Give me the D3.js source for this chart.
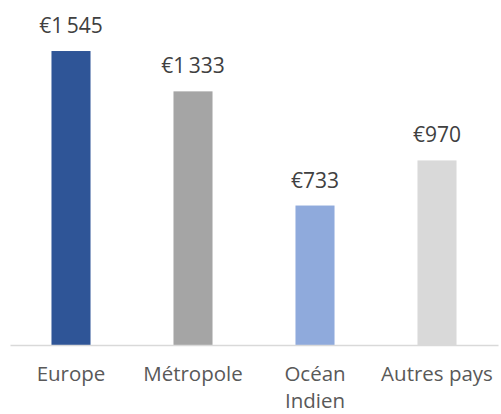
<!DOCTYPE html>
<html>
<head>
<meta charset="utf-8">
<script src="https://cdn.jsdelivr.net/npm/d3@7"></script>
<style>
  body { margin: 0; background: #fff; }
  text { font-family: "Open Sans", sans-serif; }
</style>
</head>
<body>
<div id="vis"></div>
<script>
// data
const CATEGORIES = ["Europe", "Métropole", "Océan Indien", "Autres pays"];
const VALUES = [1545, 1333, 733, 970];
const COLORS = ["#2F5597", "#A5A5A5", "#8FAADC", "#D9D9D9"];

const FRAME_WIDTH = 501;
const FRAME_HEIGHT = 414;
const MARGINS = {left: 10, right: 3, top: 2.5, bottom: 69};

const FRAME = d3.select("#vis")
                .append("svg")
                  .attr("width", FRAME_WIDTH)
                  .attr("height", FRAME_HEIGHT);

const X_SCALE = d3.scaleBand()
                  .domain(CATEGORIES)
                  .range([MARGINS.left, FRAME_WIDTH - MARGINS.right])
                  .paddingInner(0.68)
                  .paddingOuter(0.34);

const Y_SCALE = d3.scaleLinear()
                  .domain([0, 1800])
                  .range([FRAME_HEIGHT - MARGINS.bottom, MARGINS.top]);

const fmt = (v) => "€" + d3.format(",")(v).replace(",", "\u2009");

// bars
FRAME.append("g")
  .selectAll("rect")
  .data(VALUES)
  .enter()
  .append("rect")
    .attr("x", (d, i) => X_SCALE(CATEGORIES[i]))
    .attr("y", (d) => Y_SCALE(d))
    .attr("width", X_SCALE.bandwidth())
    .attr("height", (d) => Y_SCALE(0) - Y_SCALE(d))
    .attr("fill", (d, i) => COLORS[i]);

// value labels
FRAME.append("g")
  .selectAll("text")
  .data(VALUES)
  .enter()
  .append("text")
    .attr("x", (d, i) => X_SCALE(CATEGORIES[i]) + X_SCALE.bandwidth() / 2)
    .attr("y", (d) => Y_SCALE(d) - 18)
    .attr("text-anchor", "middle")
    .attr("font-size", "21px")
    .attr("fill", "#404040")
    .text((d) => fmt(d));

// x axis
const xAxis = FRAME.append("g")
  .attr("transform", "translate(0," + Y_SCALE(0) + ")")
  .call(d3.axisBottom(X_SCALE).tickSize(0).tickPadding(0));

xAxis.select(".domain").attr("stroke", "#D9D9D9").attr("stroke-width", 1.3);
xAxis.selectAll(".tick text").remove();

xAxis.selectAll(".tick")
  .append("text")
    .attr("text-anchor", "middle")
    .attr("font-size", "20.5px")
    .attr("fill", "#595959")
    .each(function(d) {
      const words = d === "Océan Indien" ? ["Océan", "Indien"] : [d];
      words.forEach((w, k) => {
        d3.select(this).append("tspan")
          .attr("x", 0)
          .attr("y", 36 + k * 27)
          .text(w);
      });
    });
</script>
</body>
</html>
